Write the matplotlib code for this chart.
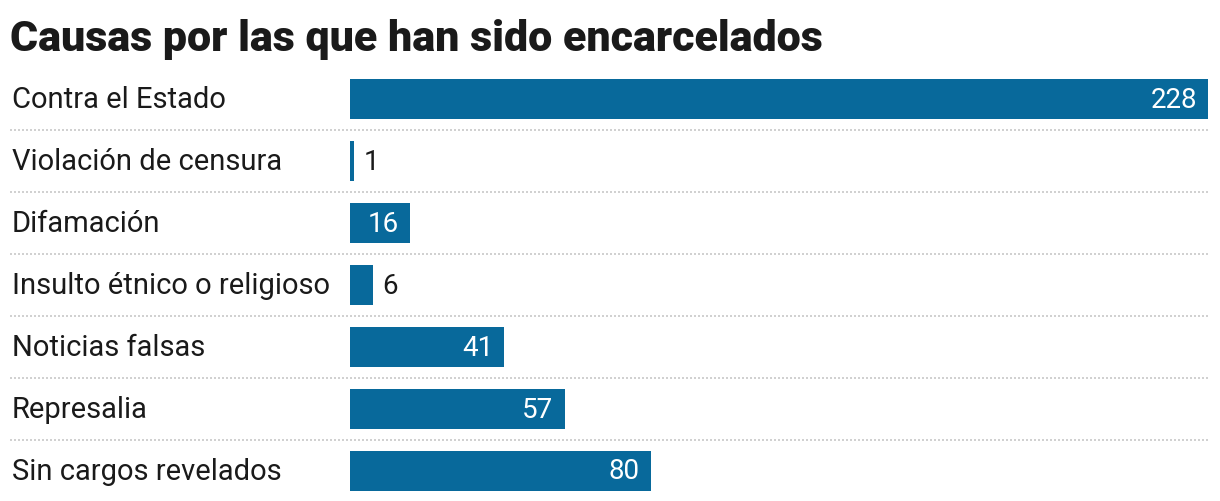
import matplotlib
matplotlib.use("Agg")
import matplotlib.pyplot as plt
import matplotlib.transforms as mtransforms

# datos
causas = ["Contra el Estado", "Violación de censura", "Difamación",
          "Insulto étnico o religioso", "Noticias falsas", "Represalia",
          "Sin cargos revelados"]
valores = [228, 1, 16, 6, 41, 57, 80]
titulo = "Causas por las que han sido encarcelados"

AZUL = "#08699b"
W, H = 1220, 502

fig = plt.figure(figsize=(W / 100, H / 100), dpi=100)
# eje: barras de x=350 a x=1208 px, filas de 69 a 503 px
ax = fig.add_axes([350 / W, (H - 503) / H, 858 / W, 434 / H])
ax.set_xlim(0, max(valores))
ax.set_ylim(len(causas) - 0.5, -0.5)
ax.axis("off")

ypos = list(range(len(causas)))
ax.barh(ypos, valores, height=0.645, color=AZUL)

trans = mtransforms.blended_transform_factory(fig.transFigure, ax.transData)
for i, (c, v) in enumerate(zip(causas, valores)):
    ax.text(12 / W, i, c, transform=trans, ha="left", va="center",
            fontsize=21, color="#1a1a1a", family="Roboto")
    if v > 10:
        ax.annotate(str(v), (v, i), xytext=(-8, 0), textcoords="offset points",
                    ha="right", va="center", fontsize=20, color="white",
                    family="Roboto")
    else:
        ax.annotate(str(v), (v, i), xytext=(7, 0), textcoords="offset points",
                    ha="left", va="center", fontsize=20, color="#1a1a1a",
                    family="Roboto")

# separadores punteados
for i in range(len(causas) - 1):
    ax.plot([10 / W, 1208 / W], [i + 0.5, i + 0.5], transform=trans,
            color="#c8c8c8", lw=1.2, ls=(0, (1.2, 1.2)), clip_on=False)

fig.text(10 / W, 1 - 40 / H, titulo, ha="left", va="center", fontsize=31,
         fontweight="black", color="#1a1a1a", family="Roboto")

fig.savefig("out.png", dpi=100)
